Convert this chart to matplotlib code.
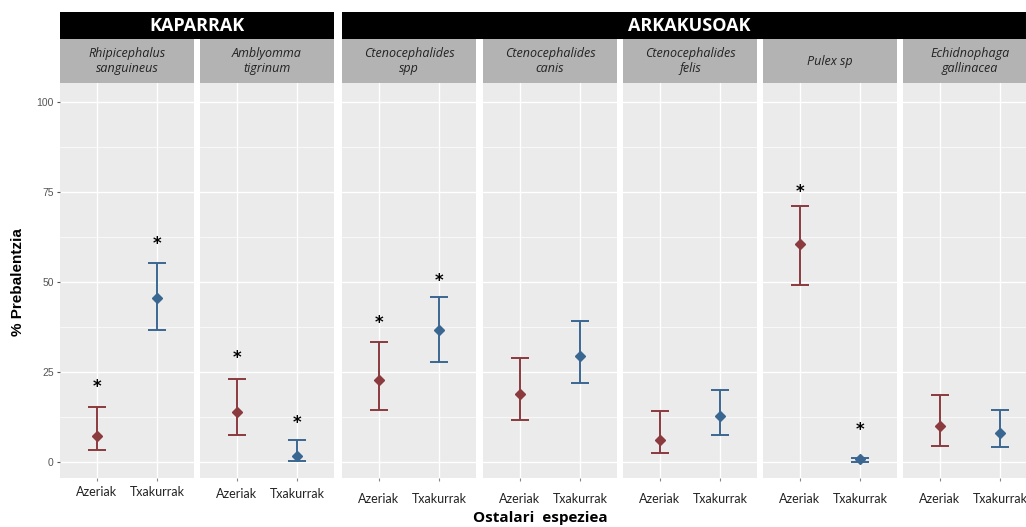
import matplotlib
matplotlib.use("Agg")
import matplotlib.pyplot as plt
from matplotlib.patches import Rectangle

# data
species = ["Rhipicephalus\nsanguineus", "Amblyomma\ntigrinum", "Ctenocephalides\nspp",
           "Ctenocephalides\ncanis", "Ctenocephalides\nfelis", "Pulex sp",
           "Echidnophaga\ngallinacea"]
hosts = ["Azeriak", "Txakurrak"]
groups = [("KAPARRAK", 0, 1), ("ARKAKUSOAK", 2, 6)]

fox_mean = [7.3, 13.8, 22.8, 18.9, 6.1, 60.6, 10.1]
fox_low = [3.3, 7.5, 14.4, 11.7, 2.5, 49.2, 4.6]
fox_high = [15.4, 23.2, 33.3, 28.9, 14.2, 71.2, 18.6]
dog_mean = [45.7, 1.8, 36.7, 29.4, 12.8, 0.8, 8.0]
dog_low = [36.8, 0.3, 27.8, 21.9, 7.5, 0.0, 4.3]
dog_high = [55.4, 6.1, 45.8, 39.2, 20.0, 1.2, 14.6]
fox_star = [21.0, 29.0, 38.6, None, None, 75.0, None]
dog_star = [60.5, 11.0, 50.3, None, None, 8.9, None]

red = "#8B3A3E"
blue = "#3A6792"

W, H = 1026, 527
fig = plt.figure(figsize=(W / 100, H / 100), dpi=100)

def fx(px):
    return px / W

def fy(py):
    return 1 - py / H

lefts = [60, 200, 342, 483, 623, 763, 903]
pw = 134
top, bottom = 83, 478
label_pads = [3.5, 4.5, 8, 8, 8, 8, 8]

axes = []
for i, sp in enumerate(species):
    ax = fig.add_axes([fx(lefts[i]), fy(bottom), pw / W, (bottom - top) / H])
    ax.set_facecolor("#EBEBEB")
    ax.set_xlim(0.4, 2.6)
    ax.set_ylim(-4.4, 105.3)
    ax.set_yticks([0, 25, 50, 75, 100])
    ax.set_yticks([12.5, 37.5, 62.5, 87.5], minor=True)
    ax.grid(True, which="major", color="white", linewidth=1.0)
    ax.grid(True, which="minor", axis="y", color="white", linewidth=0.5)
    ax.set_axisbelow(True)
    for s in ax.spines.values():
        s.set_visible(False)
    ax.set_xticks([1, 2])
    ax.set_xticklabels(hosts, family="Lato", fontsize=9, color="#222222")
    ax.tick_params(axis="x", length=2.5, color="#888888", pad=label_pads[i])
    ax.tick_params(axis="y", which="minor", length=0)
    if i == 0:
        ax.set_yticklabels(["0", "25", "50", "75", "100"], family="Liberation Sans",
                           fontsize=7.5, color="#555555")
        ax.tick_params(axis="y", length=2.5, color="#555555", pad=2)
    else:
        ax.tick_params(axis="y", length=0, labelleft=False)

    for x, m, lo, hi, col, star in [(1, fox_mean[i], fox_low[i], fox_high[i], red, fox_star[i]),
                                    (2, dog_mean[i], dog_low[i], dog_high[i], blue, dog_star[i])]:
        ax.errorbar([x], [m], yerr=[[m - lo], [hi - m]], fmt="D", color=col,
                    markersize=5.5, capsize=6.5, elinewidth=1.4, capthick=1.4)
        if star is not None:
            ax.text(x, star, "*", ha="center", va="center", fontsize=12,
                    fontweight="bold", color="black")
    axes.append(ax)

    # grey strip with species name
    fig.patches.append(Rectangle((fx(lefts[i]), fy(83)), pw / W, 44 / H,
                                 transform=fig.transFigure, facecolor="#B3B3B3",
                                 edgecolor="none"))
    fig.text(fx(lefts[i] + pw / 2), fy(61), sp, ha="center", va="center",
             family="Open Sans", style="italic", fontsize=9, color="#222222",
             linespacing=1.15)

# black group headers
for name, a, b in groups:
    x0 = lefts[a]
    x1 = lefts[b] + pw
    fig.patches.append(Rectangle((fx(x0), fy(39)), (x1 - x0) / W, 27 / H,
                                 transform=fig.transFigure, facecolor="black",
                                 edgecolor="none"))
    fig.text(fx((x0 + x1) / 2), fy(26), name, ha="center", va="center",
             family="Open Sans", fontweight="bold", fontsize=13, color="white")

fig.text(fx(18), fy(282), "% Prebalentzia", rotation=90, ha="center", va="center",
         family="Liberation Sans", fontweight="bold", fontsize=11)
fig.text(fx(540), fy(518), "Ostalari  espeziea", ha="center", va="center",
         family="Open Sans", fontweight="bold", fontsize=11)

fig.savefig("out.png", dpi=100, facecolor="white")
